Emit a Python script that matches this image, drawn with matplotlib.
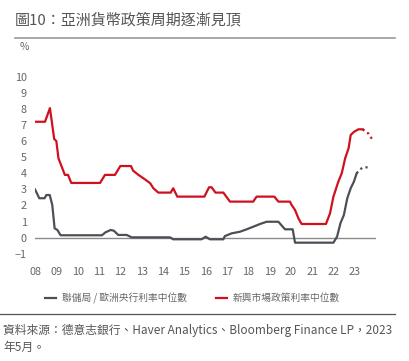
import matplotlib
matplotlib.use('Agg')
import matplotlib.pyplot as plt
from matplotlib.lines import Line2D

plt.rcParams['font.family'] = ['Noto Sans CJK TC', 'DejaVu Sans']

# Fed / ECB median policy rate (year, %)
fed_t = [2008.0, 2008.2, 2008.45, 2008.53, 2008.69, 2008.81, 2008.92, 2009.05, 2009.2,
         2011.14, 2011.3, 2011.55, 2011.7, 2011.9, 2012.3, 2012.53, 2014.33, 2014.48,
         2015.81, 2016.0, 2016.2, 2016.83, 2016.9, 2017.22, 2017.61, 2017.92, 2018.23,
         2018.55, 2018.86, 2019.41, 2019.72, 2020.08, 2020.19, 2021.99, 2022.16, 2022.32,
         2022.48, 2022.64, 2022.8, 2022.95, 2023.08]
fed_v = [3.0, 2.45, 2.45, 2.65, 2.65, 2.03, 0.58, 0.48, 0.15,
         0.15, 0.33, 0.48, 0.43, 0.17, 0.17, 0.02, 0.02, -0.1,
         -0.1, 0.06, -0.1, -0.1, 0.1, 0.27, 0.37, 0.52, 0.68,
         0.85, 0.99, 0.99, 0.52, 0.52, -0.31, -0.31, 0.06, 0.9,
         1.41, 2.45, 3.07, 3.48, 4.0]
fed_fc_t = [2023.08, 2023.24, 2023.4, 2023.71]
fed_fc_v = [4.0, 4.25, 4.37, 4.37]

# EM median policy rate (year, %)
em_t = [2008.0, 2008.47, 2008.7, 2008.9, 2009.0, 2009.1, 2009.4, 2009.55, 2009.7,
        2011.05, 2011.28, 2011.75, 2012.0, 2012.5, 2012.6, 2012.85, 2013.08, 2013.24,
        2013.4, 2013.55, 2013.78, 2014.36, 2014.48, 2014.67, 2015.94, 2016.16, 2016.28,
        2016.46, 2016.83, 2017.14, 2018.23, 2018.39, 2019.22, 2019.41, 2019.95, 2020.03,
        2020.19, 2020.35, 2020.5, 2021.64, 2021.83, 2021.99, 2022.22, 2022.38, 2022.54,
        2022.7, 2022.8, 2022.96, 2023.16, 2023.36]
em_v = [7.2, 7.2, 8.05, 6.13, 6.0, 4.93, 3.9, 3.9, 3.4,
        3.4, 3.9, 3.9, 4.45, 4.45, 4.16, 3.9, 3.69, 3.54,
        3.38, 3.07, 2.8, 2.8, 3.07, 2.55, 2.55, 3.13, 3.13,
        2.8, 2.8, 2.24, 2.24, 2.55, 2.55, 2.24, 2.24, 2.03,
        1.72, 1.2, 0.85, 0.85, 1.51, 2.55, 3.48, 4.0, 4.93,
        5.55, 6.38, 6.58, 6.73, 6.73]
em_fc_t = [2023.36, 2023.62, 2023.83]
em_fc_v = [6.73, 6.48, 6.07]

years = list(range(2008, 2024))
year_labels = ['%02d' % (y % 100) for y in years]
yticks = list(range(-1, 11))

red = '#d0101e'
dark = '#4b5056'
txt = '#666666'

fig = plt.figure(figsize=(4.10, 3.61), dpi=100)

# title + rule
fig.text(15 / 410, 1 - 20 / 361, '圖10：亞洲貨幣政策周期逐漸見頂', fontsize=10.8,
         color='#555555', va='center', ha='left')
fig.add_artist(Line2D([15 / 410, 395 / 410], [1 - 38 / 361] * 2, color='#999999', lw=1.2))
fig.text(20 / 410, 1 - 47 / 361, '%', fontsize=7.5, color=txt, va='center', ha='left')

ax = fig.add_axes([35 / 410, 0.2747, 341.3 / 410, 0.5352])
ax.axhline(0, color='#8a8a8a', lw=1.0, zorder=1)
ax.plot(fed_t, fed_v, color=dark, lw=1.6, zorder=3)
ax.plot(fed_fc_t, fed_fc_v, color=dark, lw=1.6, ls=(0, (1, 1.5)), zorder=3)
ax.plot(em_t, em_v, color=red, lw=1.6, zorder=3)
ax.plot(em_fc_t, em_fc_v, color=red, lw=1.6, ls=(0, (1, 1.5)), zorder=3)

ax.set_xlim(2008, 2024)
ax.set_ylim(-1.5, 10.5)
ax.set_xticks(years)
ax.set_xticklabels(year_labels)
ax.set_yticks(yticks)
ax.tick_params(length=0, labelsize=7.8, labelcolor=txt)
ax.tick_params(axis='y', pad=6)
ax.tick_params(axis='x', pad=4)
for s in ax.spines.values():
    s.set_visible(False)

# legend
legend_handles = [Line2D([], [], color=dark, lw=1.6), Line2D([], [], color=red, lw=1.6)]
fig.legend(legend_handles, ['聯儲局 / 歐洲央行利率中位數', '新興市場政策利率中位數'],
           loc='center', bbox_to_anchor=(0.47, 1 - 298 / 361), ncol=2, frameon=False,
           fontsize=7, labelcolor=txt, handlelength=1.1, handletextpad=0.6,
           columnspacing=3.0)

# source
fig.add_artist(Line2D([0, 395 / 410], [1 - 314 / 361] * 2, color='#555555', lw=0.9))
fig.text(3 / 410, 1 - 330 / 361,
         '資料來源：德意志銀行、Haver Analytics、Bloomberg Finance LP，2023',
         fontsize=8.5, color='#555555', va='center', ha='left')
fig.text(3 / 410, 1 - 347 / 361, '年5月。', fontsize=8.5, color='#555555',
         va='center', ha='left')

fig.savefig('out.png', dpi=100)
